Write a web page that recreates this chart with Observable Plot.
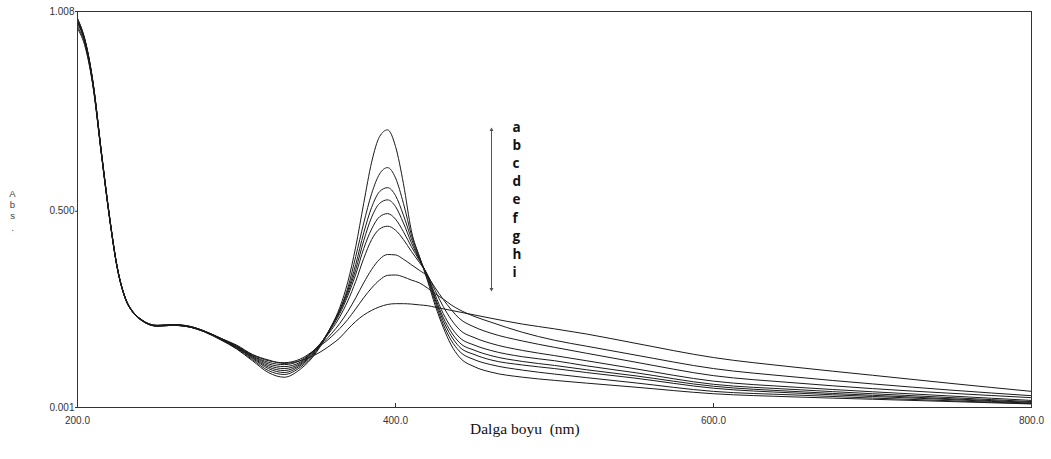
<!DOCTYPE html>
<html><head><meta charset="utf-8">
<script src="https://cdn.jsdelivr.net/npm/d3@7"></script>
<script src="https://cdn.jsdelivr.net/npm/@observablehq/plot@0.6"></script>
<style>
body{margin:0;background:#fff;}
#wrap{position:relative;width:1051px;height:459px;overflow:hidden;}
#overlay{position:absolute;left:0;top:0;pointer-events:none;}
</style></head><body><div id="wrap"></div>
<script>
const wavelengths = [200,205,210,215,220,225,230,235,240,250,260,270,280,290,300,310,320,330,340,350,360,365,370,375,380,385,390,395,400,405,410,415,420,425,430,435,440,450,460,480,500,520,550,600,650,700,750,800];
const seriesNames = ["a","b","c","d","e","f","g","h","i"];
const absA = [0.99,0.93,0.82,0.65,0.49,0.357,0.28,0.243,0.225,0.208,0.21,0.206,0.193,0.173,0.15,0.12,0.09,0.078,0.098,0.14,0.21,0.256,0.32,0.41,0.52,0.625,0.69,0.707,0.665,0.57,0.45,0.385,0.325,0.26,0.205,0.16,0.13,0.104,0.091,0.078,0.07,0.063,0.053,0.036,0.028,0.022,0.016,0.01];
const absB = [0.985,0.925,0.815,0.648,0.488,0.356,0.279,0.242,0.224,0.208,0.21,0.206,0.193,0.174,0.151,0.123,0.095,0.085,0.103,0.143,0.21,0.25,0.305,0.385,0.47,0.545,0.595,0.611,0.585,0.52,0.44,0.385,0.33,0.268,0.213,0.172,0.145,0.122,0.11,0.096,0.086,0.077,0.064,0.042,0.033,0.025,0.018,0.011];
const absC = [0.98,0.928,0.818,0.652,0.49,0.358,0.28,0.243,0.224,0.209,0.211,0.207,0.194,0.175,0.153,0.126,0.1,0.09,0.107,0.146,0.21,0.248,0.298,0.365,0.445,0.51,0.55,0.56,0.54,0.49,0.43,0.38,0.335,0.275,0.222,0.183,0.156,0.135,0.122,0.109,0.1,0.09,0.076,0.05,0.038,0.029,0.021,0.012];
const absD = [0.975,0.93,0.82,0.65,0.49,0.357,0.28,0.244,0.225,0.21,0.212,0.208,0.195,0.176,0.154,0.128,0.104,0.095,0.11,0.148,0.208,0.245,0.292,0.352,0.425,0.485,0.52,0.529,0.512,0.47,0.42,0.378,0.337,0.28,0.23,0.193,0.167,0.146,0.133,0.118,0.108,0.097,0.082,0.055,0.042,0.032,0.023,0.014];
const absE = [0.99,0.932,0.822,0.652,0.492,0.358,0.281,0.244,0.225,0.21,0.212,0.208,0.195,0.176,0.155,0.13,0.108,0.1,0.113,0.15,0.205,0.24,0.285,0.34,0.405,0.455,0.486,0.494,0.48,0.448,0.41,0.375,0.338,0.287,0.24,0.205,0.18,0.159,0.146,0.13,0.12,0.107,0.09,0.06,0.047,0.036,0.026,0.016];
const absF = [0.985,0.928,0.818,0.65,0.49,0.357,0.28,0.243,0.224,0.209,0.211,0.207,0.195,0.177,0.156,0.132,0.112,0.105,0.116,0.152,0.2,0.232,0.272,0.322,0.38,0.428,0.455,0.462,0.452,0.428,0.398,0.37,0.34,0.298,0.258,0.225,0.2,0.178,0.164,0.146,0.133,0.12,0.1,0.068,0.053,0.041,0.03,0.019];
const absG = [0.98,0.925,0.815,0.648,0.488,0.356,0.279,0.242,0.224,0.209,0.211,0.207,0.195,0.177,0.157,0.133,0.116,0.11,0.12,0.15,0.19,0.215,0.245,0.28,0.318,0.352,0.378,0.39,0.389,0.378,0.364,0.35,0.335,0.305,0.276,0.25,0.228,0.205,0.19,0.17,0.154,0.139,0.117,0.082,0.064,0.049,0.037,0.026];
const absH = [0.97,0.92,0.812,0.646,0.487,0.355,0.279,0.242,0.223,0.208,0.21,0.206,0.194,0.177,0.158,0.135,0.12,0.115,0.124,0.15,0.182,0.202,0.225,0.252,0.28,0.305,0.325,0.337,0.338,0.333,0.325,0.318,0.305,0.29,0.277,0.262,0.25,0.232,0.218,0.192,0.172,0.157,0.135,0.1,0.079,0.061,0.045,0.031];
const absI = [0.965,0.915,0.81,0.645,0.486,0.355,0.278,0.242,0.223,0.208,0.21,0.206,0.194,0.177,0.16,0.136,0.122,0.113,0.12,0.136,0.162,0.178,0.2,0.22,0.236,0.248,0.257,0.263,0.265,0.265,0.264,0.262,0.26,0.256,0.252,0.248,0.244,0.236,0.228,0.213,0.201,0.188,0.165,0.128,0.104,0.083,0.062,0.042];
const xTicks = [200,400,600,800];
const yTicks = [0.001,0.5,1.008];
const yLetters = ["A","b","s","."];
const xTitle = "Dalga boyu  (nm)";

const allSeries = [absA,absB,absC,absD,absE,absF,absG,absH,absI];
const data = seriesNames.flatMap((s,k)=>wavelengths.map((w,i)=>({series:s, wl:w, abs:allSeries[k][i]})));

const W=1051,H=459,mL=77,mR=20,mT=11,mB=52;
const plot = Plot.plot({
  width:W,height:H,marginLeft:mL,marginRight:mR,marginTop:mT,marginBottom:mB,
  x:{domain:[200,800]}, y:{domain:[0.001,1.008]},
  style:{fontFamily:"'Liberation Sans', Arial, sans-serif",fontSize:"10px",color:"#333",background:"#fff"},
  marks:[
    Plot.line(data,{x:"wl",y:"abs",z:"series",stroke:"#1a1a1a",strokeWidth:1,curve:"monotone-x"}),
    Plot.frame({stroke:"#333"}),
    Plot.tickX(xTicks,{x:d=>d,stroke:"#333",insetTop:H-mT-mB-4}),
    Plot.axisX({ticks:xTicks,tickFormat:d3.format(".1f"),tickSize:0,tickPadding:9,label:null,fill:"#333"}),
    Plot.axisY({ticks:yTicks,tickFormat:d3.format(".3f"),tickSize:2,tickPadding:1,label:null,fill:"#333",stroke:"#333"})
  ]
});
const wrap=document.getElementById("wrap");
wrap.appendChild(plot);

const ov=d3.select(wrap).append("svg").attr("id","overlay").attr("width",W).attr("height",H);
// y label stacked letters
const yBase=[197,208,219,231];
ov.selectAll("text.yl").data(yLetters).join("text").attr("class","yl")
  .attr("x",12.5).attr("y",(d,i)=>yBase[i]).attr("text-anchor","middle")
  .attr("font-family","'Liberation Sans', Arial, sans-serif").attr("font-size",9.5).attr("fill","#444").text(d=>d);
// x title
ov.append("text").attr("x",470).attr("y",434).attr("font-family","'Liberation Serif','Times New Roman',serif")
  .attr("font-size",15.5).attr("fill","#111").style("white-space","pre").text(xTitle);
// legend
ov.append("line").attr("x1",491.5).attr("x2",491.5).attr("y1",129).attr("y2",290).attr("stroke","#555").attr("stroke-width",1);
ov.append("path").attr("d","M489.5,131 L491.5,127.5 L493.5,131 Z").attr("fill","#555");
ov.append("path").attr("d","M489.5,288 L491.5,291.5 L493.5,288 Z").attr("fill","#555");
ov.selectAll("text.lg").data(seriesNames).join("text").attr("class","lg")
  .attr("x",512.5).attr("y",(d,i)=>131.5+18.2*i)
  .attr("font-family","'Open Sans','DejaVu Sans',sans-serif").attr("font-weight",700).attr("font-size",13.5).attr("fill","#111").text(d=>d);
</script></body></html>
